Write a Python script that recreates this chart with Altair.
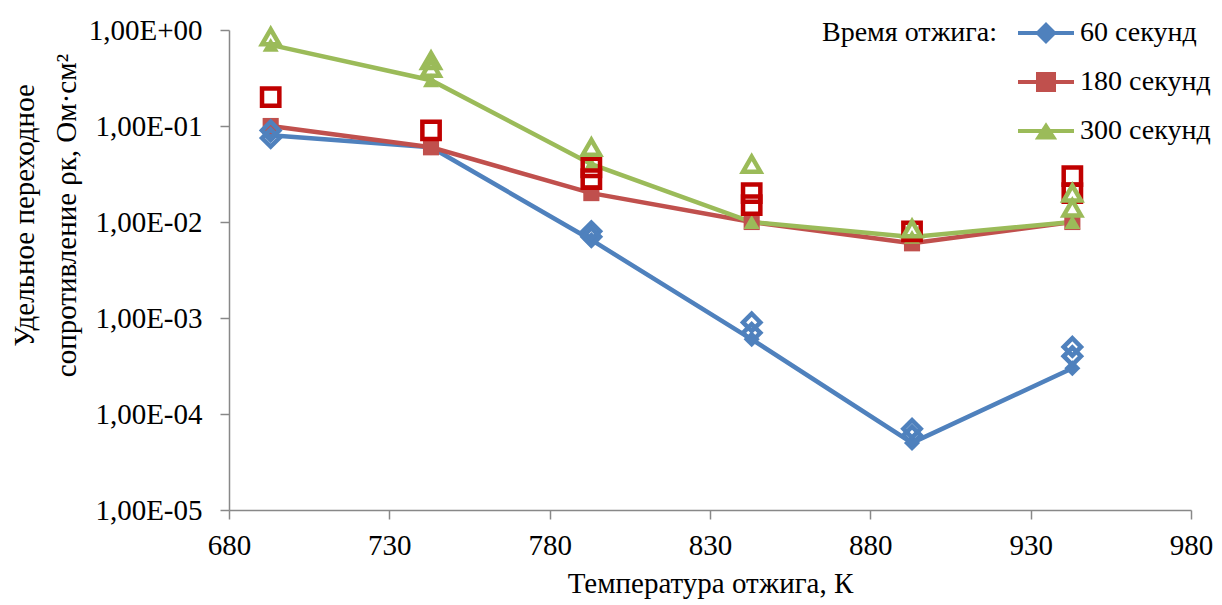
import altair as alt
import pandas as pd

# ---- data ----
temps = [693, 743, 793, 843, 893, 943]
series = ["60 секунд", "180 секунд", "300 секунд"]
line_60 = [0.08, 0.06, 0.0065, 0.0006, 0.00005, 0.0003]
line_180 = [0.1, 0.06, 0.02, 0.01, 0.006, 0.01]
line_300 = [0.7, 0.3, 0.04, 0.01, 0.007, 0.01]

meas_60_t = [693, 693, 793, 793, 843, 843, 893, 893, 943, 943]
meas_60_v = [0.09, 0.075, 0.008, 0.007, 0.0009, 0.0007, 0.00007, 0.00006, 0.0005, 0.0004]
meas_180_t = [693, 743, 793, 793, 843, 843, 893, 943, 943]
meas_180_v = [0.2, 0.09, 0.037, 0.028, 0.02, 0.015, 0.008, 0.03, 0.02]
meas_300_t = [693, 743, 743, 793, 843, 893, 943, 943]
meas_300_v = [0.85, 0.48, 0.4, 0.06, 0.04, 0.0085, 0.02, 0.014]

x_ticks = [680, 730, 780, 830, 880, 930, 980]
y_ticks = [1e-5, 1e-4, 1e-3, 1e-2, 1e-1, 1]

marker_colors = ["#4F81BD", "#C0504D", "#9BBB59"]
hollow_colors = ["#4F81BD", "#C00000", "#9BBB59"]
shapes = ["diamond", "square", "triangle-up"]
legend_shapes = [
    "M-4,-0.29L4,-0.29L4,0.29L-4,0.29Z M0,-1.57L1.57,0L0,1.57L-1.57,0Z",
    "M-4,-0.29L4,-0.29L4,0.29L-4,0.29Z M-1.43,-1.43L1.43,-1.43L1.43,1.43L-1.43,1.43Z",
    "M-4,-0.29L4,-0.29L4,0.29L-4,0.29Z M0,-1.25L1.6,1.2L-1.6,1.2Z",
]

FONT = "serif"

lines_df = pd.DataFrame(
    {
        "T": temps * 3,
        "v": line_60 + line_180 + line_300,
        "s": [series[0]] * 6 + [series[1]] * 6 + [series[2]] * 6,
    }
)
meas_df = pd.DataFrame(
    {
        "T": meas_60_t + meas_180_t + meas_300_t,
        "v": meas_60_v + meas_180_v + meas_300_v,
        "s": [series[0]] * len(meas_60_t) + [series[1]] * len(meas_180_t) + [series[2]] * len(meas_300_t),
    }
)

x_enc = alt.X(
    "T:Q",
    scale=alt.Scale(domain=[680, 980], nice=False, zero=False),
    axis=alt.Axis(
        values=x_ticks,
        title="Температура отжига, К",
        grid=False,
        domainColor="#888888",
        domainWidth=1.5,
        tickColor="#888888",
        tickWidth=1.5,
        tickSize=9,
        labelFont=FONT,
        labelFontSize=29,
        labelColor="black",
        labelPadding=12,
        labelFlush=False,
        labelOverlap=False,
        titleFont=FONT,
        titleFontSize=29,
        titleFontWeight="normal",
        titleColor="black",
        titlePadding=9,
    ),
)
y_enc = alt.Y(
    "v:Q",
    scale=alt.Scale(type="log", domain=[1e-5, 1], nice=False),
    axis=alt.Axis(
        values=y_ticks,
        labelExpr="'1,00E' + (datum.value >= 1 ? '+00' : '-0' + toString(round(-log(datum.value) / LN10)))",
        title=["Удельное переходное", "сопротивление ρк, Ом·см²"],
        grid=False,
        domainColor="#888888",
        domainWidth=1.5,
        tickColor="#888888",
        tickWidth=1.5,
        tickSize=9,
        labelFont=FONT,
        labelFontSize=29,
        labelColor="black",
        labelPadding=18,
        labelFlush=False,
        labelOverlap=False,
        titleFont=FONT,
        titleFontSize=29,
        titleFontWeight="normal",
        titleColor="black",
        titleAngle=270,
        titleAlign="center",
        titleBaseline="middle",
        titleLineHeight=42,
        titleX=-205,
        titleY=185,
    ),
)

legend_props = dict(
    title="Время отжига:",
    orient="none",
    legendX=593,
    legendY=-11,
    padding=0,
    titleOrient="left",
    titleAnchor="start",
    titleBaseline="top",
    titlePadding=35,
    titleLimit=400,
    titleFont=FONT,
    titleFontSize=28,
    titleFontWeight="normal",
    titleColor="black",
    labelFont=FONT,
    labelFontSize=28,
    labelColor="black",
    labelOffset=20,
    labelLimit=400,
    rowPadding=21,
    symbolSize=196,
    symbolStrokeWidth=0,
)

legend_layer = (
    alt.Chart(lines_df)
    .mark_point(filled=True, size=1, opacity=1)
    .encode(
        x=x_enc,
        y=y_enc,
        color=alt.Color(
            "s:N",
            scale=alt.Scale(domain=series, range=marker_colors),
            legend=alt.Legend(**legend_props),
        ),
        shape=alt.Shape(
            "s:N",
            scale=alt.Scale(domain=series, range=legend_shapes),
            legend=alt.Legend(**legend_props),
        ),
    )
)

lines = (
    alt.Chart(lines_df)
    .mark_line(strokeWidth=4.5)
    .encode(
        x=x_enc,
        y=y_enc,
        color=alt.Color("s:N", scale=alt.Scale(domain=series, range=marker_colors), legend=None),
        detail="s:N",
    )
)

filled = (
    alt.Chart(lines_df)
    .mark_point(filled=True, size=260, opacity=1)
    .encode(
        x=x_enc,
        y=y_enc,
        color=alt.Color("s:N", scale=alt.Scale(domain=series, range=marker_colors), legend=None),
        shape=alt.Shape("s:N", scale=alt.Scale(domain=series, range=shapes), legend=None),
    )
)

hollow = (
    alt.Chart(meas_df)
    .mark_point(filled=False, size=300, strokeWidth=4.5, opacity=1)
    .encode(
        x=x_enc,
        y=y_enc,
        color=alt.Color("s:N", scale=alt.Scale(domain=series, range=hollow_colors), legend=None),
        shape=alt.Shape("s:N", scale=alt.Scale(domain=series, range=shapes), legend=None),
    )
)

chart = (
    alt.layer(legend_layer, lines, filled, hollow)
    .resolve_scale(color="independent", shape="independent")
    .properties(
        width=962,
        height=480,
        padding={"left": 221, "top": 22, "right": 23, "bottom": 95},
        autosize=alt.AutoSizeParams(type="none"),
        background="white",
    )
    .configure(font=FONT)
    .configure_axis(labelFont=FONT, titleFont=FONT, labelFontSize=29)
    .configure_text(font=FONT)
    .configure_view(stroke=None)
)

chart.save("out.html", embed_options={"renderer": "svg", "actions": False})
